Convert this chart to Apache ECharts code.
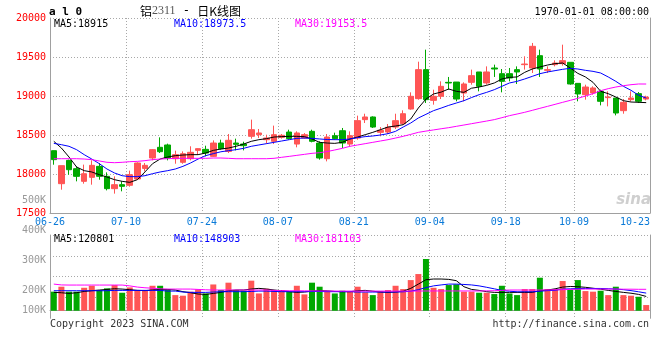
<!DOCTYPE html>
<html><head><meta charset="utf-8">
<script src="https://cdn.jsdelivr.net/npm/echarts@6/dist/echarts.min.js"></script>
<style>html,body{margin:0;padding:0;background:#fff}#c{width:660px;height:360px}</style>
</head><body><div id="c"></div>
<script>
const dates = ['06-26','06-27','06-28','06-29','06-30','07-03','07-04','07-05','07-06','07-07',
'07-10','07-11','07-12','07-13','07-14','07-17','07-18','07-19','07-20','07-21',
'07-24','07-25','07-26','07-27','07-28','07-31','08-01','08-02','08-03','08-04',
'08-07','08-08','08-09','08-10','08-11','08-14','08-15','08-16','08-17','08-18',
'08-21','08-22','08-23','08-24','08-25','08-28','08-29','08-30','08-31','09-01',
'09-04','09-05','09-06','09-07','09-08','09-11','09-12','09-13','09-14','09-15',
'09-18','09-19','09-20','09-21','09-22','09-25','09-26','09-27','09-28',
'10-09','10-10','10-11','10-12','10-13','10-16','10-17','10-18','10-19','10-20'];
const axisDates = dates.concat(['10-23']);
const labelIdx = [0,10,20,30,40,50,60,69,79];

const opens = [18299,17876,18175,18068,17906,17957,18098,17970,17812,17863,
17855,17936,18072,18205,18342,18372,18196,18150,18196,18303,
18316,18226,18397,18290,18397,18384,18483,18504,18440,18419,
18470,18538,18384,18461,18547,18397,18196,18491,18555,18384,
18461,18697,18731,18534,18538,18602,18645,18833,18966,19338,
18944,18996,19175,19179,19038,19175,19308,19167,19359,19286,
19286,19338,19402,19359,19517,19329,19402,19415,19432,19162,
19017,19038,19060,18979,18974,18812,18953,19030,18961];
const closes = [18184,18107,18055,17970,18004,18111,17970,17812,17863,17842,
17991,18141,18111,18312,18286,18205,18248,18260,18278,18325,
18269,18397,18325,18432,18380,18363,18568,18526,18461,18504,
18496,18453,18526,18504,18419,18205,18474,18453,18397,18491,
18684,18731,18602,18560,18598,18684,18773,18996,19338,18953,
18996,19124,19167,18961,19154,19261,19124,19308,19346,19188,
19231,19308,19410,19637,19346,19338,19423,19453,19154,19026,
19115,19103,18932,18987,18782,18919,18974,18932,18987];
const lows = [18119,17799,17991,17906,17876,17863,17927,17790,17748,17778,
17837,17927,18034,18175,18269,18175,18132,18132,18175,18248,
18226,18218,18312,18269,18303,18303,18453,18461,18389,18384,
18453,18440,18342,18450,18406,18184,18162,18440,18333,18355,
18440,18654,18590,18483,18513,18577,18632,18825,18953,18910,
18889,18961,19081,18932,18932,19145,19060,19145,19244,19047,
19188,19154,19338,19295,19244,19295,19380,19389,19145,18932,
18953,19017,18880,18867,18752,18773,18932,18910,18944];
const highs = [18300,18107,18184,18098,18120,18175,18141,18021,17970,17906,
18043,18150,18141,18320,18470,18389,18299,18290,18355,18330,
18363,18431,18440,18513,18453,18414,18697,18577,18504,18620,
18513,18568,18547,18525,18568,18419,18513,18530,18590,18547,
18748,18773,18739,18602,18641,18773,18816,19047,19440,19594,
19081,19188,19244,19179,19175,19338,19308,19380,19402,19346,
19359,19380,19509,19680,19594,19380,19457,19658,19432,19162,
19145,19124,19081,19060,18974,18961,19060,19051,19004];

const ma5 = [18419,18333,18218,18090,18043,18026,17991,17961,17927,17906,
17893,17927,18026,18132,18192,18218,18235,18243,18248,18248,
18269,18303,18320,18333,18355,18384,18419,18440,18453,18474,
18479,18483,18483,18479,18449,18406,18397,18393,18406,18449,
18474,18504,18534,18568,18602,18615,18632,18705,18846,18961,
19026,19050,19090,19060,19047,19100,19115,19137,19167,19218,
19239,19244,19303,19346,19372,19397,19415,19423,19359,19290,
19244,19175,19060,19030,18987,18940,18923,18919,18915];
const ma10 = [18393,18376,18355,18312,18248,18192,18132,18064,18013,17978,
17966,17966,17978,18004,18026,18043,18064,18098,18141,18192,
18235,18261,18285,18299,18312,18329,18355,18372,18389,18406,
18423,18440,18457,18461,18457,18449,18442,18440,18440,18449,
18466,18479,18487,18500,18517,18547,18602,18654,18718,18765,
18812,18845,18880,18910,18940,18980,19017,19047,19081,19124,
19167,19188,19218,19252,19286,19308,19325,19342,19355,19346,
19329,19316,19295,19244,19188,19124,19073,19010,18973.5];
const ma30 = [18196,18196,18196,18196,18192,18184,18167,18150,18145,18150,
18158,18162,18171,18184,18192,18196,18201,18201,18201,18201,
18201,18205,18205,18201,18196,18196,18196,18196,18196,18201,
18214,18226,18239,18252,18265,18273,18288,18308,18329,18355,
18372,18389,18406,18423,18440,18461,18483,18508,18534,18550,
18565,18580,18594,18611,18628,18645,18662,18679,18697,18722,
18748,18769,18791,18816,18842,18867,18893,18919,18944,18970,
19000,19030,19068,19094,19115,19132,19145,19154,19153.5];

const volumes = [161000,203000,161000,161000,194000,211000,175000,189000,217000,152000,
197000,175000,175000,211000,211000,180000,132000,127000,161000,180000,
146000,222000,175000,237000,175000,169000,254000,146000,186000,175000,
175000,161000,211000,138000,237000,203000,166000,
146000,169000,161000,203000,155000,132000,166000,175000,211000,183000,
259000,310000,437000,194000,183000,217000,223000,161000,161000,152000,
152000,141000,211000,146000,132000,183000,183000,279000,183000,183000,
251000,180000,259000,166000,161000,169000,132000,203000,132000,127000,118000,48000];
const volMa5 = [155000,152000,146000,152000,163000,169000,175000,180000,186000,183000,
178000,172000,170000,175000,180000,180000,175000,161000,152000,141000,
138000,146000,155000,169000,175000,175000,183000,189000,183000,175000,
169000,161000,155000,158000,165000,170000,168000,
163000,161000,161000,169000,172000,165000,158000,155000,158000,165000,
189000,225000,262000,268000,268000,265000,254000,203000,180000,172000,
161000,155000,155000,155000,155000,155000,155000,169000,175000,185000,
200000,205000,203000,198000,190000,182000,172000,163000,155000,148000,138000,120801];
const volMa10 = [169000,169000,169000,169000,169000,169000,169000,169000,172000,172000,
172000,172000,172000,172000,172000,166000,166000,158000,155000,155000,
155000,158000,161000,161000,161000,161000,163000,166000,166000,163000,
161000,161000,161000,161000,163000,163000,161000,
161000,161000,161000,158000,158000,158000,158000,158000,158000,160000,
165000,178000,195000,210000,218000,225000,225000,222000,218000,210000,
198000,185000,172000,165000,160000,160000,160000,165000,170000,172000,
183000,185000,188000,188000,188000,188000,186000,183000,178000,170000,160000,148903];
const volMa30 = [225000,218000,217000,217000,217000,217000,217000,217000,217000,217000,
210000,200000,194000,190000,185000,183000,183000,183000,183000,180000,
177000,175000,175000,175000,175000,175000,175000,175000,175000,172000,
170000,169000,169000,168000,168000,167000,167000,
166000,166000,166000,166000,166000,166000,166000,166000,166000,166000,
166000,166000,167000,167000,167000,167000,167000,167000,167000,167000,
168000,169000,172000,175000,175000,175000,175000,175000,176000,177000,
178000,180000,182000,183000,183000,183000,183000,183000,182000,182000,181000,181103];

const priceTicks = [17500,18000,18500,19000,19500,20000];
const volTickLabels = [100000,200000,300000,400000,500000];
const priceMaLast = [18915, 18973.5, 19153.5];
const volMaLast = [120801, 148903, 181103];
const stamp = '1970-01-01 08:00:00';

const UP = '#ff5555', DOWN = '#00a800';
const MONO = '"DejaVu Sans Mono", "Liberation Mono", monospace';
const GRIDC = '#a8a8a8', AXC = '#a0a0a0';
const showIdx = (i) => labelIdx.indexOf(i) >= 0;

const candleData = opens.map((o, i) => [o, closes[i], lows[i], highs[i]]);
const volData = volumes.map((v, i) => ({value: v, itemStyle: {color: closes[i] >= opens[i] ? UP : DOWN}}));

const chart = echarts.init(document.getElementById('c'), null, {renderer: 'canvas'});
const lineS = (name, data, color, xi, yi) => ({
  name, type: 'line', data, xAxisIndex: xi, yAxisIndex: yi, symbol: 'none', smooth: false,
  lineStyle: {color, width: 1}, z: 5, silent: true
});
const monoText = (text, x, y, fill, align) => ({
  type: 'text', x, y, silent: true,
  style: {text, font: '10px ' + MONO, fill, align: align || 'left', verticalAlign: 'middle'}
});
const dotted = {color: GRIDC, type: [1, 2], width: 1};
chart.setOption({
  animation: false,
  backgroundColor: '#fff',
  grid: [
    {left: 50, top: 18, width: 600, height: 195, outerBoundsMode: 'none'},
    {left: 50, top: 235, width: 600, height: 83.3, outerBoundsMode: 'none'},
    {left: 50, top: 200.7, width: 600, height: 120, outerBoundsMode: 'none'}
  ],
  xAxis: [
    {type: 'category', gridIndex: 0, data: dates, boundaryGap: true, show: false},
    {type: 'category', gridIndex: 0, data: axisDates, boundaryGap: false, position: 'bottom',
     axisLine: {show: true, lineStyle: {color: AXC, width: 1}}, axisTick: {show: false},
     axisLabel: {show: true, interval: (i) => showIdx(i), color: '#0a7ad8', fontFamily: MONO, fontSize: 10, margin: 4,
       formatter: (v, i) => i === 79 ? '{r|' + v + '}' : v,
       rich: {r: {color: '#0a7ad8', fontFamily: MONO, fontSize: 10, padding: [0, 30, 0, 0]}}},
     splitLine: {show: true, interval: (i) => showIdx(i), lineStyle: dotted}},
    {type: 'category', gridIndex: 1, data: dates, boundaryGap: true, show: false},
    {type: 'category', gridIndex: 1, data: axisDates, boundaryGap: false, position: 'bottom',
     axisLine: {show: true, lineStyle: {color: AXC, width: 1}}, axisTick: {show: false}, axisLabel: {show: false},
     splitLine: {show: true, interval: (i) => showIdx(i), lineStyle: dotted}},
    {type: 'value', gridIndex: 2, min: 0, max: 1, show: false}
  ],
  yAxis: [
    {type: 'value', gridIndex: 0, min: priceTicks[0], max: priceTicks[priceTicks.length - 1], interval: 500, position: 'left',
     axisLine: {show: true, lineStyle: {color: AXC}}, axisTick: {show: false},
     axisLabel: {color: '#ff0000', fontFamily: MONO, fontSize: 10, margin: 4, formatter: (v) => String(v)},
     splitLine: {show: true, showMinLine: false, lineStyle: dotted}},
    {type: 'value', gridIndex: 0, min: 17500, max: 20000, position: 'right',
     axisLine: {show: true, onZero: false, lineStyle: {color: AXC}}, axisTick: {show: false}, axisLabel: {show: false}, splitLine: {show: false}},
    {type: 'value', gridIndex: 1, min: -64000, max: 640000, interval: 176000, position: 'left',
     axisLine: {show: true, onZero: false, lineStyle: {color: AXC}}, axisTick: {show: false}, axisLabel: {show: false},
     splitLine: {show: true, showMinLine: false, lineStyle: dotted}},
    {type: 'value', gridIndex: 1, min: -64000, max: 640000, position: 'right',
     axisLine: {show: true, onZero: false, lineStyle: {color: AXC}}, axisTick: {show: false}, axisLabel: {show: false}, splitLine: {show: false}},
    {type: 'value', gridIndex: 2, min: volTickLabels[0], max: volTickLabels[volTickLabels.length - 1], interval: 100000, position: 'left',
     axisLine: {show: false}, axisTick: {show: false}, splitLine: {show: false},
     axisLabel: {color: '#999', fontFamily: MONO, fontSize: 10, margin: 4,
       formatter: (v) => v === 100000 ? '{low|' + (v / 1000) + 'K}' : (v / 1000) + 'K',
       rich: {low: {color: '#999', fontFamily: MONO, fontSize: 10, padding: [0, 0, 20, 0]}}}}
  ],
  series: [
    {type: 'candlestick', name: 'K', xAxisIndex: 0, yAxisIndex: 0, data: candleData, barWidth: 6, z: 3,
     itemStyle: {color: UP, color0: DOWN, borderColor: UP, borderColor0: DOWN, borderWidth: 1}},
    lineS('MA5', ma5, '#000000', 0, 0),
    lineS('MA10', ma10, '#0000ff', 0, 0),
    lineS('MA30', ma30, '#ff00ff', 0, 0),
    {type: 'bar', name: 'VOL', xAxisIndex: 2, yAxisIndex: 2, data: volData, barWidth: 6, z: 3},
    lineS('VMA5', volMa5, '#000000', 2, 2),
    lineS('VMA10', volMa10, '#0000ff', 2, 2),
    lineS('VMA30', volMa30, '#ff00ff', 2, 2)
  ],
  graphic: [
    {type: 'text', x: 49, y: 12, silent: true, style: {text: 'a l 0', font: 'bold 11px ' + MONO, fill: '#000', align: 'left', verticalAlign: 'middle'}},
    {type: 'text', x: 140, y: 11, silent: true, style: {
      text: '{a|铝}{b|2311}{c| - }{a|日K线图}', align: 'left', verticalAlign: 'middle',
      rich: {a: {font: '12px "Noto Sans CJK SC"', fill: '#000'},
             b: {font: '12px "Liberation Serif"', fill: '#555'},
             c: {font: '12px ' + MONO, fill: '#000'}}}},
    monoText(stamp, 649, 12, '#000', 'right'),
    monoText('MA5:' + priceMaLast[0], 54, 24, '#000'),
    monoText('MA10:' + priceMaLast[1], 174, 24, '#0000ff'),
    monoText('MA30:' + priceMaLast[2], 295, 24, '#ff00ff'),
    monoText('MA5:' + volMaLast[0], 54, 239, '#000'),
    monoText('MA10:' + volMaLast[1], 174, 239, '#0000ff'),
    monoText('MA30:' + volMaLast[2], 295, 239, '#ff00ff'),
    monoText('Copyright 2023 SINA.COM', 50, 324, '#333'),
    monoText('http://finance.sina.com.cn', 649, 324, '#333', 'right'),
    {type: 'text', x: 651, y: 200, silent: true, style: {text: 'sina', font: 'italic bold 15px "DejaVu Sans"', fill: '#cfcfcf', align: 'right', verticalAlign: 'middle'}}
  ]
});
</script>
</body></html>
